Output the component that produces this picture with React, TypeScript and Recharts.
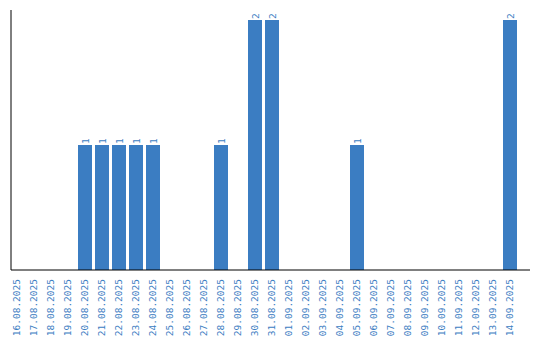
import React from 'react';
import { BarChart, Bar, XAxis, YAxis, LabelList } from 'recharts';

const dates = [
  '16.08.2025', '17.08.2025', '18.08.2025', '19.08.2025', '20.08.2025', '21.08.2025',
  '22.08.2025', '23.08.2025', '24.08.2025', '25.08.2025', '26.08.2025', '27.08.2025',
  '28.08.2025', '29.08.2025', '30.08.2025', '31.08.2025', '01.09.2025', '02.09.2025',
  '03.09.2025', '04.09.2025', '05.09.2025', '06.09.2025', '07.09.2025', '08.09.2025',
  '09.09.2025', '10.09.2025', '11.09.2025', '12.09.2025', '13.09.2025', '14.09.2025',
];
const counts = [0, 0, 0, 0, 1, 1, 1, 1, 1, 0, 0, 0, 1, 0, 2, 2, 0, 0, 0, 0, 1, 0, 0, 0, 0, 0, 0, 0, 0, 2];

const data = dates.map((d, i) => ({ date: d, value: counts[i] }));

const BLUE = '#3b7dc2';
const FONT = '"DejaVu Sans Mono", monospace';

const Tick = (props: any) => {
  const { x, y, payload } = props;
  return (
    <text
      x={0}
      y={0}
      transform={`translate(${x + 3.5},${y + 1}) rotate(-90)`}
      textAnchor="end"
      fill={BLUE}
      fontSize={9.5}
      fontFamily={FONT}
    >
      {payload.value}
    </text>
  );
};

const ValueLabel = (props: any) => {
  const { x, y, width, value } = props;
  if (!value) return null;
  const cx = x + width / 2;
  return (
    <text
      x={0}
      y={0}
      transform={`translate(${cx + 3.5},${y - 1}) rotate(-90)`}
      textAnchor="start"
      fill={BLUE}
      fontSize={9.5}
      fontFamily={FONT}
    >
      {value}
    </text>
  );
};

export default function App() {
  return (
    <div style={{ position: 'absolute', left: 0, top: 0 }}>
      <BarChart
        width={540}
        height={340}
        data={data}
        margin={{ top: 10, right: 10, bottom: 0, left: 10 }}
        barSize={14}
      >
        <XAxis
          dataKey="date"
          interval={0}
          height={70}
          tick={<Tick />}
          tickLine={false}
          axisLine={{ stroke: '#000' }}
          padding={{ left: -3, right: 12 }}
        />
        <YAxis
          width={1}
          domain={[0, 2.08]}
          tick={false}
          tickLine={false}
          axisLine={{ stroke: '#000' }}
        />
        <Bar dataKey="value" fill={BLUE} isAnimationActive={false}>
          <LabelList dataKey="value" content={<ValueLabel />} />
        </Bar>
      </BarChart>
    </div>
  );
}
